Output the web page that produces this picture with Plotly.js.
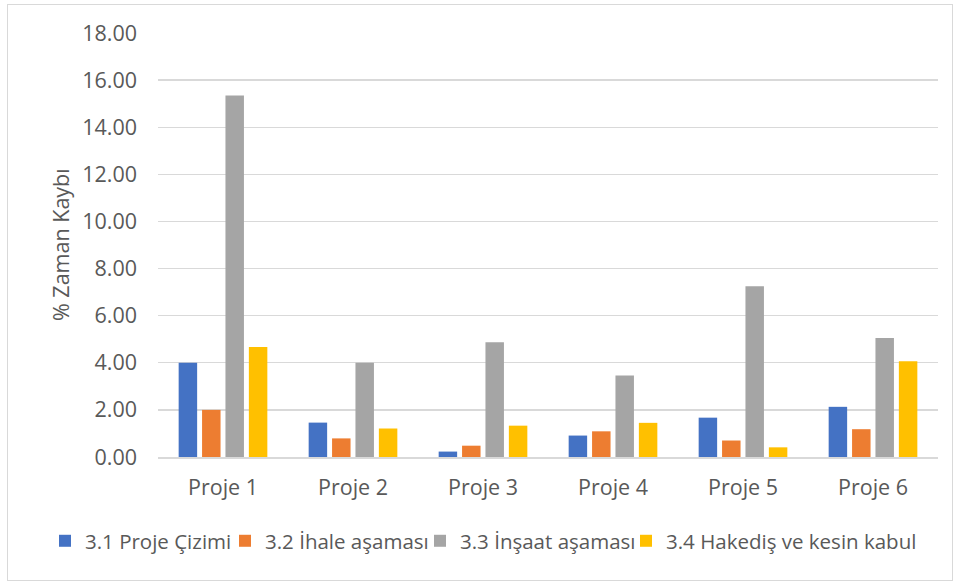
<!DOCTYPE html>
<html>
<head>
<meta charset="utf-8">
<script src="https://cdn.plot.ly/plotly-3.0.1.min.js"></script>
<style>
  html, body { margin:0; padding:0; background:#fff; }
  #chart { position:absolute; left:0; top:0; width:960px; height:583px; }
  #frame { position:absolute; left:7px; top:4px; width:944px; height:575px; border:1px solid #d9d9d9; pointer-events:none; }
</style>
</head>
<body>
<div id="chart"></div>
<div id="frame"></div>
<script>
const categories = ["Proje 1", "Proje 2", "Proje 3", "Proje 4", "Proje 5", "Proje 6"];
const seriesNames = ["3.1 Proje Çizimi", "3.2 İhale aşaması", "3.3 İnşaat aşaması", "3.4 Hakediş ve kesin kabul"];
const projeCizimi = [4.00, 1.46, 0.23, 0.91, 1.67, 2.13];
const ihaleAsamasi = [2.00, 0.79, 0.48, 1.09, 0.70, 1.18];
const insaatAsamasi = [15.35, 4.00, 4.87, 3.46, 7.25, 5.05];
const hakedisKabul = [4.67, 1.21, 1.33, 1.45, 0.41, 4.07];
const yTicks = [0, 2, 4, 6, 8, 10, 12, 14, 16, 18];
const yTickLabels = ["0.00", "2.00", "4.00", "6.00", "8.00", "10.00", "12.00", "14.00", "16.00", "18.00"];
const yTitle = "% Zaman Kaybı";
const colors = ["#4472C4", "#ED7D31", "#A5A5A5", "#FFC000"];
const values = [projeCizimi, ihaleAsamasi, insaatAsamasi, hakedisKabul];

const FONT = "Open Sans, Noto Sans, sans-serif";
const legendIds = ["legend", "legend2", "legend3", "legend4"];
const legendX = [45, 225, 420, 626];

const traces = values.map((v, i) => ({
  type: "bar",
  x: categories,
  y: v,
  name: seriesNames[i],
  legend: legendIds[i],
  marker: { color: colors[i] },
  hoverinfo: "x+y+name"
}));

const layout = {
  width: 960, height: 583,
  margin: { l: 158, r: 22, t: 33, b: 126, autoexpand: false },
  paper_bgcolor: "rgba(0,0,0,0)",
  plot_bgcolor: "#fff",
  barmode: "group",
  bargap: 0.28,
  bargroupgap: 0.21,
  font: { family: FONT, color: "#595959", size: 20 },
  xaxis: {
    type: "category",
    showgrid: false,
    showline: true,
    linecolor: "#d9d9d9",
    linewidth: 1.5,
    ticks: "",
    tickangle: 0,
    ticklabelstandoff: 11,
    tickfont: { family: FONT, size: 21.5, color: "#595959" }
  },
  yaxis: {
    range: [0, 18],
    tickvals: yTicks,
    ticktext: yTickLabels,
    showgrid: true,
    gridcolor: "#d9d9d9",
    gridwidth: 1.3,
    zeroline: false,
    showline: false,
    ticks: "",
    ticklabelstandoff: 20,
    tickfont: { family: FONT, size: 21.5, color: "#595959" }
  },
  annotations: [{
    text: yTitle,
    xref: "paper", yref: "paper",
    x: (60 - 158) / 780, y: 0.5,
    xanchor: "center", yanchor: "middle",
    textangle: -90,
    showarrow: false,
    font: { family: FONT, size: 21.5, color: "#595959" }
  }],
  showlegend: true
};
legendIds.forEach((id, i) => {
  layout[id] = {
    orientation: "h",
    x: legendX[i] / 960, xanchor: "left", xref: "container",
    y: -0.198, yanchor: "middle",
    font: { family: FONT, size: 20.5, color: "#595959" },
    bgcolor: "rgba(0,0,0,0)",
    itemclick: false
  };
});

Plotly.newPlot("chart", traces, layout, { displayModeBar: false, staticPlot: true });
</script>
</body>
</html>
